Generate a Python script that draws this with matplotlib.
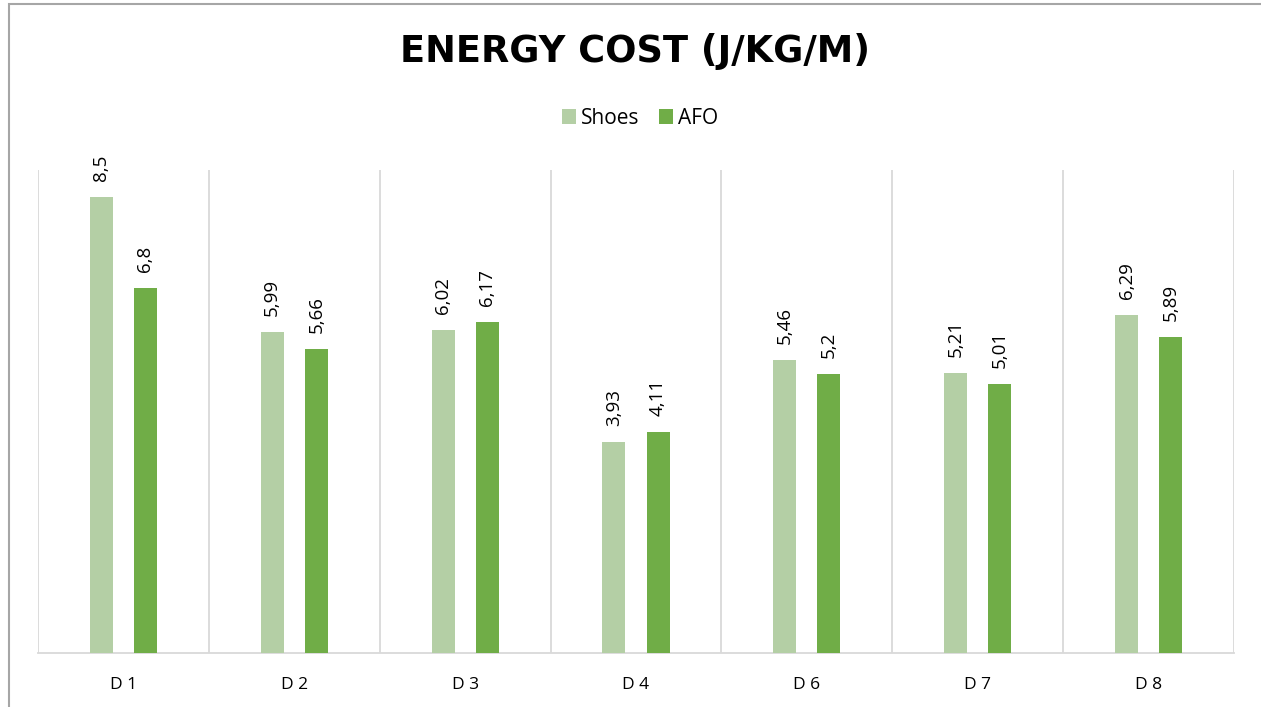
import matplotlib
matplotlib.use("Agg")
import matplotlib.pyplot as plt
from matplotlib.patches import Rectangle
import numpy as np

categories = ["D 1", "D 2", "D 3", "D 4", "D 6", "D 7", "D 8"]
shoes = [8.5, 5.99, 6.02, 3.93, 5.46, 5.21, 6.29]
afo = [6.8, 5.66, 6.17, 4.11, 5.2, 5.01, 5.89]
series_names = ["Shoes", "AFO"]
title = "ENERGY COST (J/KG/M)"

c_shoes = "#b4cfa5"
c_afo = "#70ad47"
grid_c = "#d9d9d9"
font = "Open Sans"

W, H = 1261, 707
fig = plt.figure(figsize=(W / 100, H / 100), dpi=100)
fig.patch.set_facecolor("white")

# chart border (extends beyond right/bottom edges)
fig.add_artist(Rectangle((8.5 / W, -0.05), 1.2, (H - 3.5) / H + 0.05,
                         transform=fig.transFigure, fill=False,
                         edgecolor="#a6a6a6", linewidth=1.5))

ax = fig.add_axes([38 / W, 54 / H, (1234 - 38) / W, (653 - 170) / H])
x = np.arange(len(categories))
bw = 0.135
off = 0.129
b1 = ax.bar(x - off, shoes, bw, color=c_shoes, label=series_names[0], zorder=3)
b2 = ax.bar(x + off, afo, bw, color=c_afo, label=series_names[1], zorder=3)

def fmt(v):
    s = f"{v:.2f}".rstrip("0").rstrip(".")
    return s.replace(".", ",")

for bars, vals in ((b1, shoes), (b2, afo)):
    for r, v in zip(bars, vals):
        ax.annotate(fmt(v), (r.get_x() + r.get_width() / 2, v),
                    xytext=(0, 16), textcoords="offset pixels",
                    rotation=90, ha="center", va="bottom", fontsize=13.5,
                    family=font, color="#000000")

ax.set_xlim(-0.5, len(categories) - 0.5)
ax.set_ylim(0, 9)
ax.set_yticks([])
ax.set_xticks(x)
ax.set_xticklabels(categories, fontsize=12.5, family=font, color="#000000")
ax.tick_params(axis="x", length=0, pad=17)
for b in np.arange(-0.5, len(categories), 1.0):
    ax.axvline(b, color=grid_c, linewidth=1.3, zorder=1)
for s in ("top", "right", "left"):
    ax.spines[s].set_visible(False)
ax.spines["bottom"].set_color(grid_c)
ax.spines["bottom"].set_linewidth(1.3)

fig.text(635 / W, 1 - 51 / H, title, ha="center", va="center",
         fontsize=26.5, fontweight="bold", family="DejaVu Sans", color="#000000")

leg = fig.legend(handles=[b1, b2], labels=series_names, loc="center",
                 bbox_to_anchor=(640 / W, 1 - 118 / H), ncol=2, frameon=False,
                 prop={"family": font, "size": 15}, handlelength=0.7,
                 handleheight=0.7, handletextpad=0.25, columnspacing=0.9)

fig.savefig("out.png", dpi=100, facecolor="white")
